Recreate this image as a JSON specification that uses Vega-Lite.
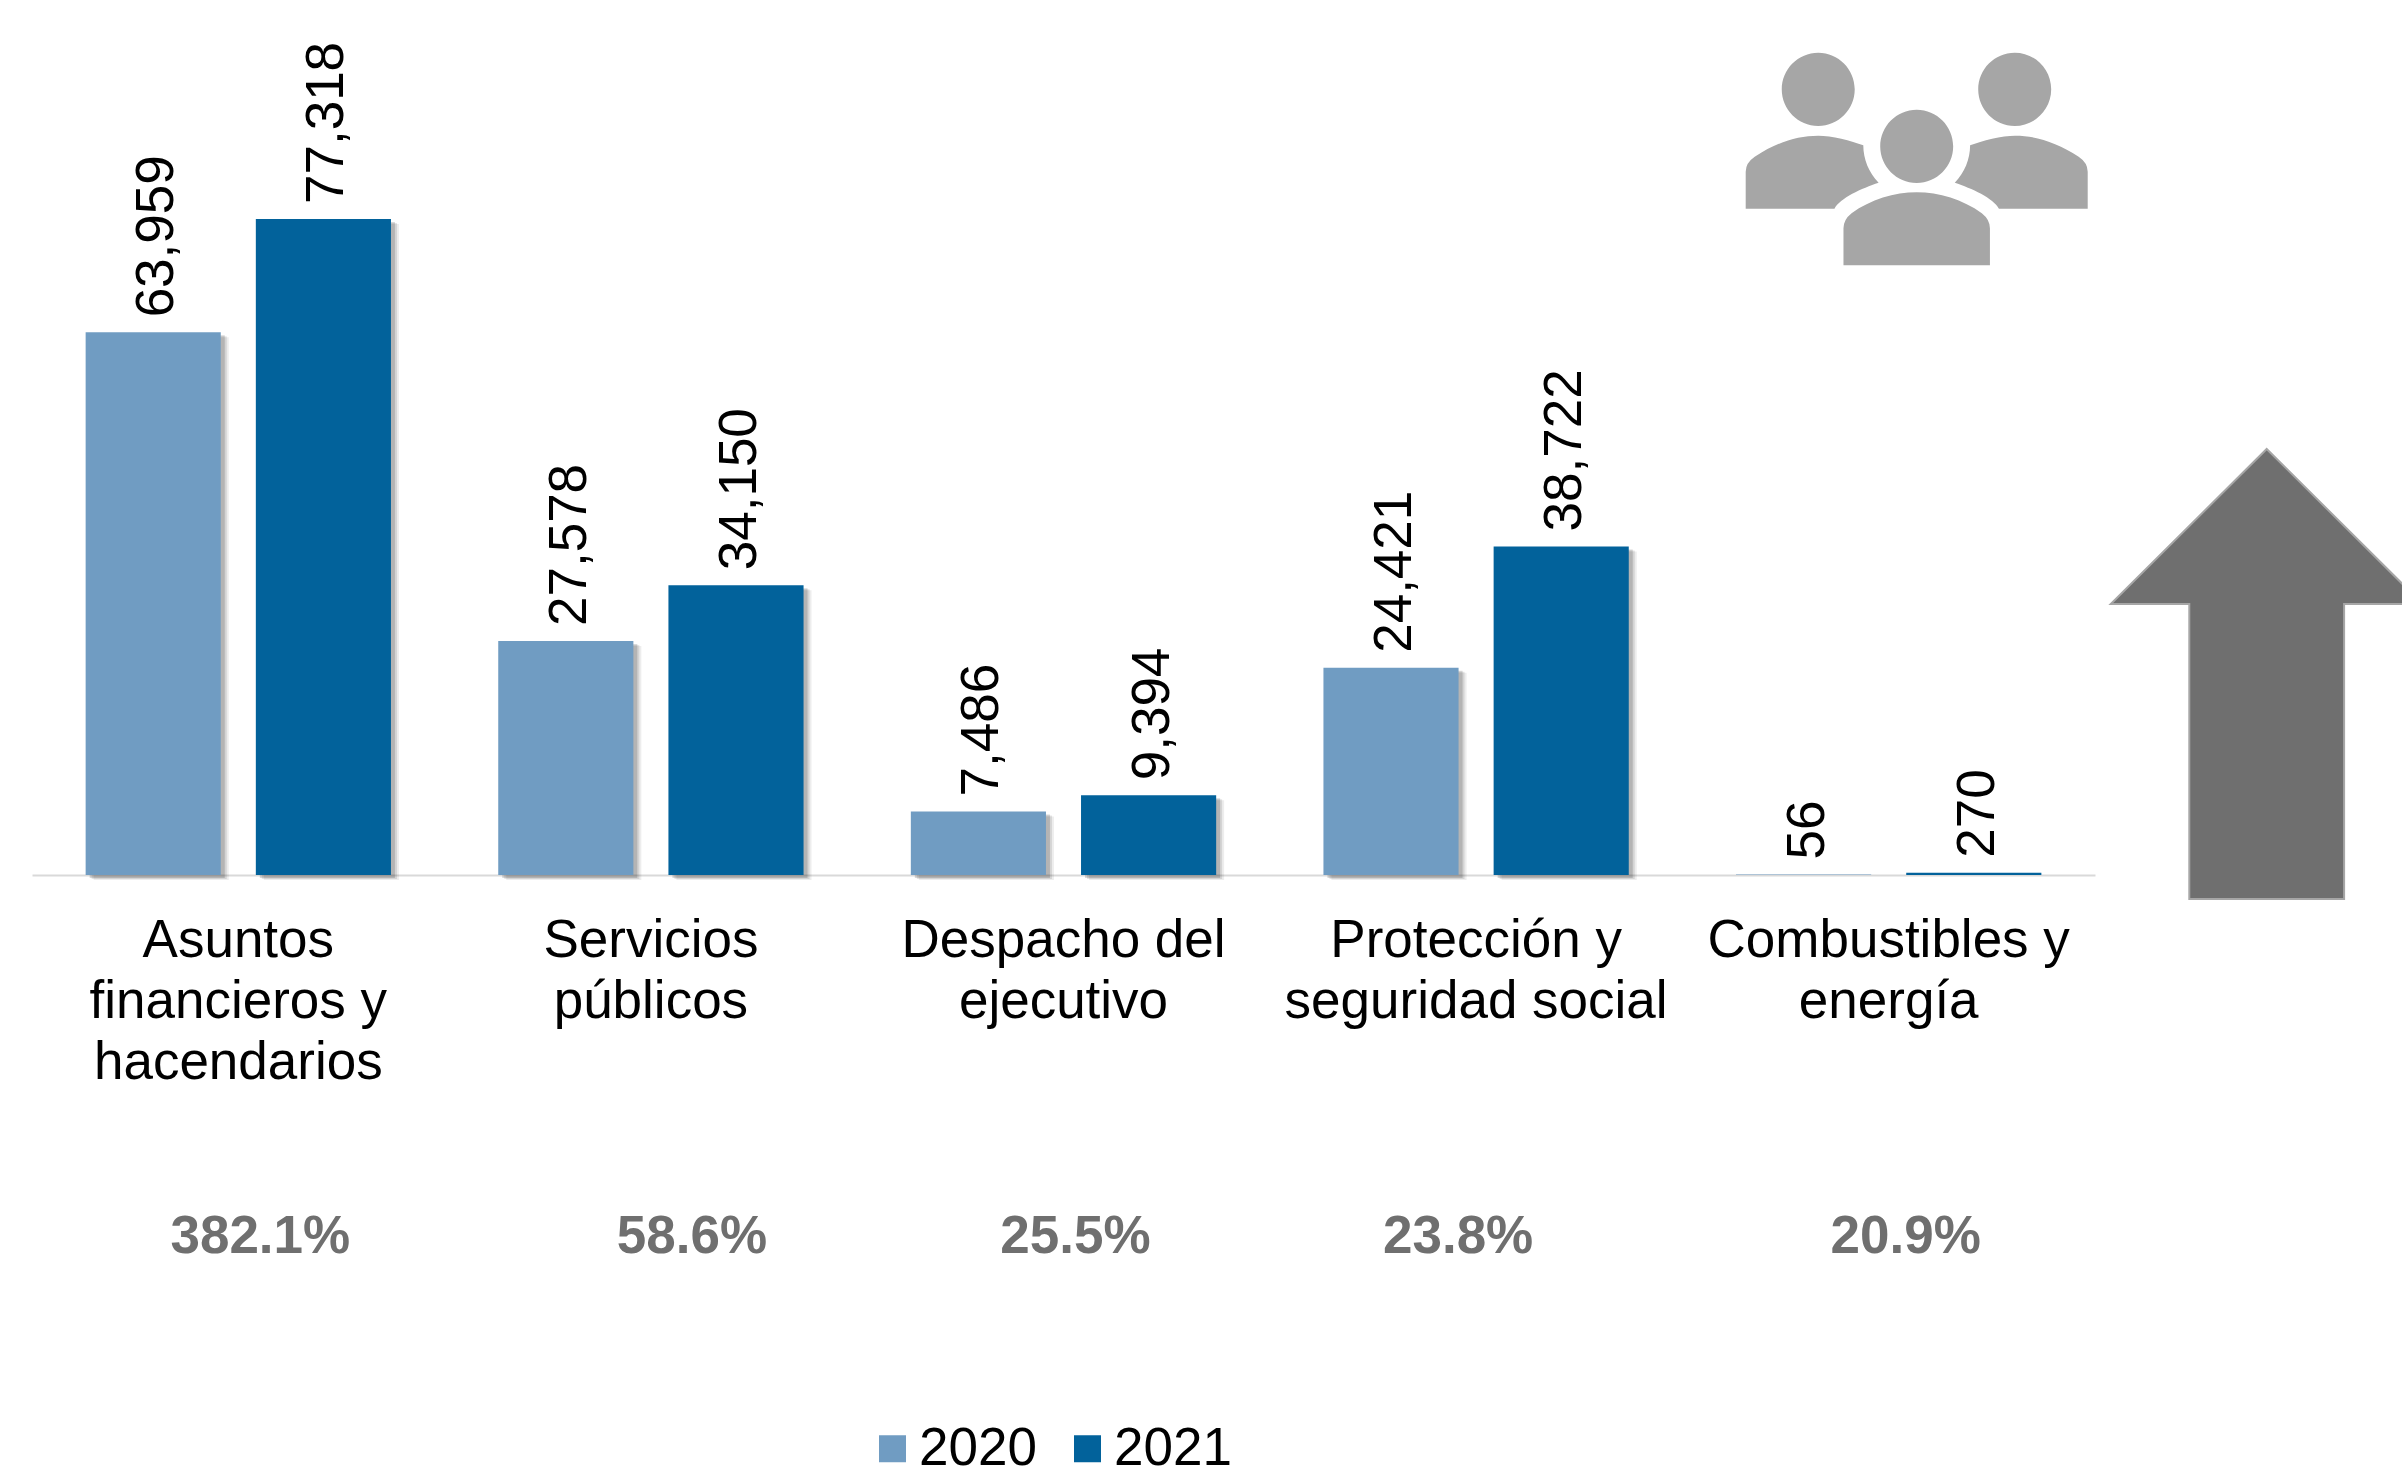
{
"$schema":"https://vega.github.io/schema/vega-lite/v6.json",
"width":2063,"height":875,
"autosize":{"type":"none"},
"padding":{"left":32,"top":0,"right":307,"bottom":592},
"background":"white",
"config":{"view":{"stroke":null},"font":"Liberation Sans"},
"datasets":{
"barras":[
{"categoria":"Asuntos financieros y hacendarios","anio":"2020","valor":63959},
{"categoria":"Asuntos financieros y hacendarios","anio":"2021","valor":77318},
{"categoria":"Servicios públicos","anio":"2020","valor":27578},
{"categoria":"Servicios públicos","anio":"2021","valor":34150},
{"categoria":"Despacho del ejecutivo","anio":"2020","valor":7486},
{"categoria":"Despacho del ejecutivo","anio":"2021","valor":9394},
{"categoria":"Protección y seguridad social","anio":"2020","valor":24421},
{"categoria":"Protección y seguridad social","anio":"2021","valor":38722},
{"categoria":"Combustibles y energía","anio":"2020","valor":56},
{"categoria":"Combustibles y energía","anio":"2021","valor":270}
]},
"encoding":{
"x":{"field":"categoria","type":"nominal","sort":null,
"scale":{"domain":["Asuntos financieros y hacendarios","Servicios públicos","Despacho del ejecutivo","Protección y seguridad social","Combustibles y energía"],"paddingInner":0.26,"paddingOuter":0.13},
"axis":{"title":null,"orient":"bottom","ticks":false,"labelAngle":0,"labelFontSize":53,"labelColor":"#000000","labelFont":"Liberation Sans","labelLineHeight":61,"labelPadding":39,"labelBaseline":"top","domainColor":"#d9d9d9","domainWidth":2,"labelOverlap":false,"labelLimit":0,"labelBound":false,"labelFlush":false,
"labelExpr":"{'Asuntos financieros y hacendarios':['Asuntos','financieros y','hacendarios'],'Servicios públicos':['Servicios','públicos'],'Despacho del ejecutivo':['Despacho del','ejecutivo'],'Protección y seguridad social':['Protección y','seguridad social'],'Combustibles y energía':['Combustibles y','energía']}[datum.value]"}}
},
"layer":[
{"data":{"name":"barras"},
 "resolve":{"scale":{"xOffset":"independent"}},
 "encoding":{
  "y":{"field":"valor","type":"quantitative","scale":{"domain":[0,103133],"nice":false,"zero":true},"axis":null}},
 "layer":[
 {"transform":[{"filter":"datum.valor>1000"}],"mark":{"type":"bar","fill":"#000000","opacity":0.07,"yOffset":5},"encoding":{"xOffset":{"field":"anio","type":"nominal","scale":{"domain":["2020","2021"],"paddingInner":0.206,"paddingOuter":0,"range":[8,313.3]}}}},
 {"transform":[{"filter":"datum.valor>1000"}],"mark":{"type":"bar","fill":"#000000","opacity":0.1,"yOffset":4},"encoding":{"xOffset":{"field":"anio","type":"nominal","scale":{"domain":["2020","2021"],"paddingInner":0.206,"paddingOuter":0,"range":[6,311.3]}}}},
 {"transform":[{"filter":"datum.valor>1000"}],"mark":{"type":"bar","fill":"#000000","opacity":0.15,"yOffset":3},"encoding":{"xOffset":{"field":"anio","type":"nominal","scale":{"domain":["2020","2021"],"paddingInner":0.206,"paddingOuter":0,"range":[4,309.3]}}}},
 {"mark":{"type":"bar"},
  "encoding":{
  "xOffset":{"field":"anio","type":"nominal","scale":{"domain":["2020","2021"],"paddingInner":0.206,"paddingOuter":0}},
  "color":{"field":"anio","type":"nominal","scale":{"domain":["2020","2021"],"range":["#709cc2","#02629b"]},
  "legend":{"title":null,"orient":"none","direction":"horizontal","legendX":834,"legendY":1422,"symbolType":"square","symbolSize":729,"symbolStrokeWidth":0,"labelFontSize":53,"labelFont":"Liberation Sans","labelColor":"#000000","labelOffset":0,"columnPadding":24,"padding":0,"labelLimit":0}}}},
 {"mark":{"type":"text","angle":270,"align":"left","baseline":"middle","dx":15,"dy":4,"fontSize":53,"font":"Liberation Sans","color":"#000000"},
  "encoding":{"xOffset":{"field":"anio","type":"nominal","scale":{"type":"band","domain":["2020","2021"],"paddingInner":0.206,"paddingOuter":0}},"text":{"field":"valor","type":"quantitative","format":","}}}
 ]},
{"data":{"values":[{"categoria":"Asuntos financieros y hacendarios","variacion":"382.1%"}]},"mark":{"type":"text","fontSize":53,"fontWeight":"bold","font":"Liberation Sans","color":"#6f6f6f","baseline":"middle","dy":362,"dx":22},"encoding":{"y":{"datum":0},"text":{"field":"variacion"}}},
{"data":{"values":[{"categoria":"Servicios públicos","variacion":"58.6%"}]},"mark":{"type":"text","fontSize":53,"fontWeight":"bold","font":"Liberation Sans","color":"#6f6f6f","baseline":"middle","dy":362,"dx":41},"encoding":{"y":{"datum":0},"text":{"field":"variacion"}}},
{"data":{"values":[{"categoria":"Despacho del ejecutivo","variacion":"25.5%"}]},"mark":{"type":"text","fontSize":53,"fontWeight":"bold","font":"Liberation Sans","color":"#6f6f6f","baseline":"middle","dy":362,"dx":12},"encoding":{"y":{"datum":0},"text":{"field":"variacion"}}},
{"data":{"values":[{"categoria":"Protección y seguridad social","variacion":"23.8%"}]},"mark":{"type":"text","fontSize":53,"fontWeight":"bold","font":"Liberation Sans","color":"#6f6f6f","baseline":"middle","dy":362,"dx":-18},"encoding":{"y":{"datum":0},"text":{"field":"variacion"}}},
{"data":{"values":[{"categoria":"Combustibles y energía","variacion":"20.9%"}]},"mark":{"type":"text","fontSize":53,"fontWeight":"bold","font":"Liberation Sans","color":"#6f6f6f","baseline":"middle","dy":362,"dx":17},"encoding":{"y":{"datum":0},"text":{"field":"variacion"}}},
{"data":{"values":[{"categoria":"Combustibles y energía","figura":"flecha"}]},"mark":{"type":"point","filled":true,"clip":false,"fill":"#6f6f6f","stroke":"#a6a6a6","strokeWidth":2,"opacity":1,"size":202500,"xOffset":378,"yOffset":-201,
 "shape":"M0,-1 L0.693,-0.311 L0.344,-0.311 L0.344,1 L-0.344,1 L-0.344,-0.311 L-0.693,-0.311 Z"},"encoding":{"y":{"datum":0}}},
{"data":{"values":[{"categoria":"Combustibles y energía","figura":"personas"}]},"mark":{"type":"point","filled":true,"clip":false,"fill":"#a6a6a6","strokeWidth":0,"opacity":1,"size":116964,"xOffset":28,"yOffset":-716,
 "shape":"M-0.7892,-0.4074 A0.2134,0.2145 0 1 0 -0.3624,-0.4074 A0.2134,0.2145 0 1 0 -0.7892,-0.4074 Z M0.3597,-0.4074 A0.2134,0.2145 0 1 0 0.7865,-0.4074 A0.2134,0.2145 0 1 0 0.3597,-0.4074 Z M-0.2134,-0.0741 A0.2134,0.2145 0 1 0 0.2134,-0.0741 A0.2134,0.2145 0 1 0 -0.2134,-0.0741 Z M-1,0.2904 L-1,0.0741 Q-1,0.0222 -0.9473,-0.0136 C-0.82,-0.0962 -0.70,-0.1365 -0.5758,-0.1365 C-0.5,-0.1365 -0.38,-0.1073 -0.3123,-0.0799 C-0.3123,0 -0.28,0.0814 -0.2227,0.1384 C-0.32,0.1702 -0.45,0.2293 -0.4809,0.2904 Z M1,0.2904 L1,0.0741 Q1,0.0222 0.9473,-0.0136 C0.82,-0.0962 0.70,-0.1365 0.5758,-0.1365 C0.5,-0.1365 0.38,-0.1073 0.3123,-0.0799 C0.3123,0 0.28,0.0814 0.2227,0.1384 C0.32,0.1702 0.45,0.2293 0.4809,0.2904 Z M-0.4282,0.6219 L-0.4282,0.4055 Q-0.4282,0.3551 -0.3808,0.3177 C-0.27,0.2367 -0.13,0.1949 0,0.1949 C0.13,0.1949 0.27,0.2367 0.3808,0.3177 Q0.4282,0.3551 0.4282,0.4055 L0.4282,0.6219 Z"},"encoding":{"y":{"datum":0}}}
]
}
